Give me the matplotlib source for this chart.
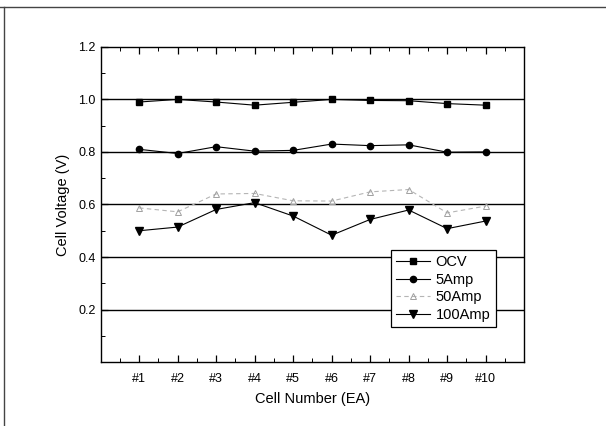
import matplotlib
matplotlib.use("Agg")
import matplotlib.pyplot as plt
from matplotlib.lines import Line2D
from matplotlib.ticker import MultipleLocator

plt.rcParams["font.family"] = ["Liberation Sans", "DejaVu Sans"]

cells = [1, 2, 3, 4, 5, 6, 7, 8, 9, 10]
cell_labels = ["#1", "#2", "#3", "#4", "#5", "#6", "#7", "#8", "#9", "#10"]

ocv = [0.990, 1.000, 0.990, 0.978, 0.989, 1.000, 0.996, 0.995, 0.984, 0.978]
amp5 = [0.810, 0.794, 0.820, 0.803, 0.806, 0.830, 0.824, 0.827, 0.799, 0.800]
amp50 = [0.587, 0.572, 0.640, 0.642, 0.614, 0.613, 0.648, 0.657, 0.568, 0.594]
amp100 = [0.500, 0.514, 0.581, 0.607, 0.556, 0.483, 0.543, 0.579, 0.508, 0.537]

fig = plt.figure(figsize=(6.06, 4.26), dpi=100)
ax = fig.add_axes([0.166, 0.150, 0.699, 0.740])

# horizontal reference lines
for yv in [0.2, 0.4, 0.6, 0.8, 1.0]:
    ax.axhline(yv, color="black", lw=1.0, zorder=1)

ax.plot(cells, ocv, color="black", lw=0.8, marker="s", ms=4.5, label="OCV", zorder=3)
ax.plot(cells, amp5, color="black", lw=0.8, marker="o", ms=4.5, label="5Amp", zorder=3)
ax.plot(cells, amp50, color="#b5b5b5", lw=0.8, ls=(0, (4, 3)), marker="^", ms=5,
        mfc="none", mec="#a0a0a0", mew=0.7, label="50Amp", zorder=3)
ax.plot(cells, amp100, color="black", lw=0.8, marker="v", ms=6, label="100Amp", zorder=3)

ax.set_xlim(0, 11)
ax.set_ylim(0, 1.2)
ax.set_xticks(cells)
ax.set_xticklabels(cell_labels)
ax.xaxis.set_minor_locator(MultipleLocator(0.5))
ax.set_yticks([0.2, 0.4, 0.6, 0.8, 1.0, 1.2])
ax.yaxis.set_minor_locator(MultipleLocator(0.1))
ax.tick_params(which="both", direction="in", top=True, right=False, labelsize=9)
ax.tick_params(which="major", length=5, width=0.9)
ax.tick_params(which="minor", length=3, width=0.7)
ax.tick_params(axis="x", pad=8)
for sp in ax.spines.values():
    sp.set_linewidth(1.0)

ax.set_xlabel("Cell Number (EA)", fontsize=10.5, labelpad=5)
ax.set_ylabel("Cell Voltage (V)", fontsize=10.5, labelpad=6)

leg = ax.legend(loc="upper left", bbox_to_anchor=(0.686, 0.356), borderaxespad=0,
                fancybox=False, framealpha=1, edgecolor="black", fontsize=10.5,
                handlelength=2.3, handletextpad=0.4, labelspacing=0.25,
                borderpad=0.35)
leg.get_frame().set_linewidth(0.9)

# scan frame lines (top and left)
fig.add_artist(Line2D([0.0, 1.0], [0.983, 0.983], transform=fig.transFigure,
                      color="#444444", lw=1.0))
fig.add_artist(Line2D([0.007, 0.007], [0.0, 0.983], transform=fig.transFigure,
                      color="#444444", lw=1.0))

fig.savefig("out.png", dpi=100)
